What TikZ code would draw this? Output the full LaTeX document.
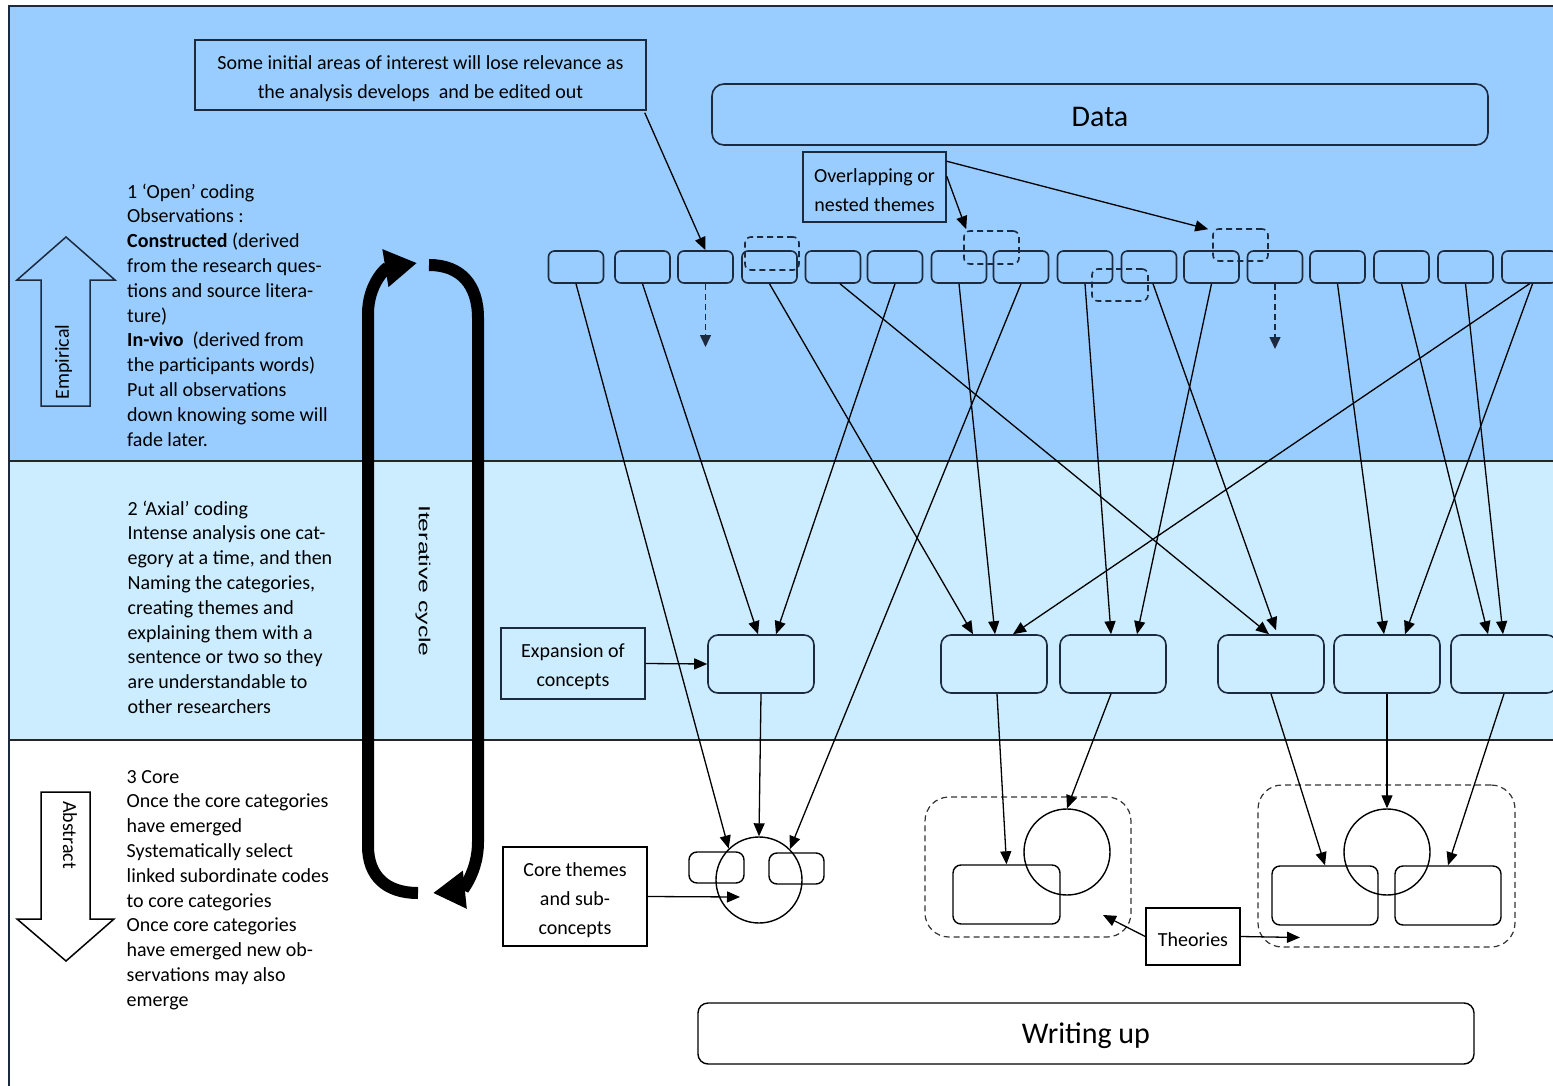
\documentclass[tikz,border=0pt]{standalone}
\usepackage{fontspec}
\setmainfont{Carlito}
\newfontfamily\cycfont{Liberation Sans}
\usetikzlibrary{arrows.meta,calc}
\definecolor{topband}{HTML}{99CCFF}
\definecolor{midband}{HTML}{CCECFF}
\definecolor{navy}{HTML}{1C2A40}
\newcommand\tsr{\rule{0pt}{21pt}}
\begin{document}
\begin{tikzpicture}[x=1pt,y=-1pt,
  lbl/.style={font=\fontsize{20}{29}\selectfont, align=center, inner sep=0pt},
  sqbox/.style={lbl, draw=navy, line width=1.5pt},
  obs/.style={draw=navy, line width=1.6pt, rounded corners=6pt, minimum width=55pt, minimum height=32pt, inner sep=0pt},
  dashbox/.style={draw=navy, line width=1.6pt, rounded corners=6pt, dash pattern=on 6pt off 4pt, inner sep=0pt},
  theme/.style={draw=navy, line width=1.6pt, rounded corners=10pt, minimum width=106pt, minimum height=58pt, inner sep=0pt},
  wbox/.style={draw=black, line width=1.4pt, rounded corners=8pt, inner sep=0pt},
  ring/.style={circle, draw=black, line width=1.4pt, minimum size=86pt, inner sep=0pt},
  grp/.style={draw=black!80, line width=1.2pt, rounded corners=24pt, dash pattern=on 6pt off 4pt, inner sep=0pt},
  arr/.style={draw=black, line width=1.3pt, -{Triangle[length=13pt,width=11pt]}},
  darr/.style={draw=navy, line width=1.5pt, dash pattern=on 6pt off 4pt, -{Triangle[length=12pt,width=11pt]}},
  cyc/.style={draw=black, line width=12pt, -{Triangle[length=32pt,width=36pt]}},
  block/.style={anchor=north west, inner sep=0pt, align=left, font=\fontsize{20}{24.8}\selectfont},
  bigarrow/.style={draw=navy, line width=1.5pt, line join=miter}
]
\useasboundingbox (0,0) rectangle (1553,1086);
% bands
\fill[white] (0,0) rectangle (1553,1086);
\fill[topband] (9,6) rectangle (1553,461);
\fill[midband] (9,461) rectangle (1553,740);
\draw[navy, line width=1.2pt] (1553,6) -- (9,6) -- (9,1086);
\draw[black!85, line width=2.5pt] (9,461) -- (1553,461);
\draw[black!85, line width=2pt] (9,740) -- (1553,740);

% left texts
\node[block] (t1) at (127,180.6) {\strut 1 ‘Open’ coding\\
Observations :\\
\textbf{Constructed} (derived\\
from the research ques-\\
tions and source litera-\\
ture)\\
\textbf{In-vivo}\ \ (derived from\\
the participants words)\\
Put all observations\\
down knowing some will\\
fade later.};
\node[block] (t2) at (127.5,497.6) {\strut 2 ‘Axial’ coding\\
Intense analysis one cat-\\
egory at a time, and then\\
Naming the categories,\\
creating themes and\\
explaining them with a\\
sentence or two so they\\
are understandable to\\
other researchers};
\node[block] (t3) at (126.5,765.6) {\strut 3 Core\\
Once the core categories\\
have emerged\\
Systematically select\\
linked subordinate codes\\
to core categories\\
Once core categories\\
have emerged new ob-\\
servations may also\\
emerge};

% block arrows
\draw[bigarrow] (41,406) -- (41,280) -- (17,280) -- (66,237) -- (115,280) -- (90,280) -- (90,406) -- cycle;
\node[rotate=90, font=\fontsize{20}{24}\selectfont, inner sep=0pt] (emp) at (63.5,362) {Empirical};
\draw[bigarrow, draw=black] (41,792) -- (90,792) -- (90,919) -- (114,919) -- (66,961) -- (17,919) -- (41,919) -- cycle;
\node[rotate=-90, font=\fontsize{20}{24}\selectfont, inner sep=0pt] (abs) at (70,835) {Abstract};

% iterative cycle
\coordinate (cyA) at (418,893);
\coordinate (cyB) at (417,263);
\coordinate (cyC) at (429,265);
\coordinate (cyD) at (433,893);
\draw[cyc] (cyA) .. controls (386,893) and (368,876) .. (368,846) -- (368,314) .. controls (368,284) and (386,268) .. (cyB);
\draw[cyc] (cyC) .. controls (461,265) and (478,285) .. (478,318) -- (478,842) .. controls (478,872) and (462,890) .. (cyD);
\node[rotate=-90, font=\cycfont\fontsize{16}{18}\selectfont, inner sep=0pt] (cyt) at (423,581) {\scalebox{1.55}[1]{Iterative cycle}};

% top boxes
\node[sqbox, minimum width=451pt, minimum height=70pt] (cb) at (420.5,75) {\tsr Some initial areas of interest will lose relevance as\\the analysis develops\ \ and be edited out};
\node[lbl, draw=navy, line width=1.6pt, rounded corners=12pt, minimum width=776pt, minimum height=61pt, font=\fontsize{30}{34}\selectfont] (data) at (1100,114.5) {\rule{0pt}{25pt}Data};
\node[sqbox, minimum width=143pt, minimum height=70pt] (ov) at (874.5,187) {\tsr Overlapping or\\nested themes};

% row of observations
\node[obs] (b1) at (576,267) {};
\node[obs] (b2) at (642.5,267) {};
\node[obs] (b3) at (705.5,267) {};
\node[obs] (b4) at (769.5,267) {};
\node[obs] (b5) at (833,267) {};
\node[obs] (b6) at (895,267) {};
\node[obs] (b7) at (959,267) {};
\node[obs] (b8) at (1021,267) {};
\node[obs] (b9) at (1085,267) {};
\node[obs] (b10) at (1149,267) {};
\node[obs] (b11) at (1211.5,267) {};
\node[obs] (b12) at (1275,267) {};
\node[obs] (b13) at (1337.5,267) {};
\node[obs] (b14) at (1401.5,267) {};
\node[obs] (b15) at (1465.5,267) {};
\node[obs] (b16) at (1529.5,267) {};
\node[dashbox, minimum width=54pt, minimum height=33pt] (d1) at (772,253.5) {};
\node[dashbox, minimum width=55pt, minimum height=33pt] (d2) at (991.5,247.5) {};
\node[dashbox, minimum width=55pt, minimum height=32pt] (d3) at (1240.5,245) {};
\node[dashbox, minimum width=56pt, minimum height=32pt] (d4) at (1120,285) {};

% arrows at top
\draw[arr] ($(cb.south east)+(-2,2)$) -- (b3.north);
\draw[arr] ($(ov.north east)+(0,25)$) -- ($(d2.north west)+(3,-1)$);
\draw[arr] ($(ov.north east)+(0,10)$) -- ($(d3.north west)+(-4,1)$);
\coordinate (x3) at (705.5,347);
\coordinate (x12) at (1275,349);
\draw[darr] (b3.south) -- (x3);
\draw[darr] (b12.south) -- (x12);

% middle themes
\node[theme] (m1) at (761,664) {};
\node[theme] (m2) at (994,664) {};
\node[theme] (m3) at (1113,664) {};
\node[theme] (m4) at (1271,664) {};
\node[theme] (m5) at (1387,664) {};
\node[theme] (m6) at (1504,664) {};
\node[sqbox, minimum width=144pt, minimum height=71pt] (exp) at (573,663.5) {\tsr Expansion of\\concepts};

% bottom
\node[ring] (cc) at (759,880) {};
\node[wbox, minimum width=55pt, minimum height=31pt] (cs1) at (716.5,867.5) {};
\node[wbox, minimum width=55pt, minimum height=31pt] (cs2) at (796.5,868.5) {};
\node[sqbox, draw=black, minimum width=144pt, minimum height=99pt] (coretxt) at (575,896.5) {\tsr Core themes\\and sub-\\concepts};

\node[grp, minimum width=206pt, minimum height=140pt] (lg) at (1028,867) {};
\node[ring] (tc1) at (1067,852) {};
\node[wbox, minimum width=107pt, minimum height=59pt] (tr1) at (1006.5,894.5) {};

\node[grp, minimum width=257pt, minimum height=162pt] (rg) at (1386.5,866) {};
\node[ring] (tc2) at (1387,852) {};
\node[wbox, minimum width=106pt, minimum height=59pt] (tr2) at (1325,895.5) {};
\node[wbox, minimum width=106pt, minimum height=59pt] (tr3) at (1448,895.5) {};

\node[sqbox, draw=black, fill=white, minimum width=94pt, minimum height=57pt] (th) at (1193,936.5) {\tsr Theories};
\node[lbl, draw=black, line width=1.4pt, rounded corners=10pt, minimum width=776pt, minimum height=61pt, font=\fontsize{30}{34}\selectfont] (wu) at (1086,1033.5) {\rule{0pt}{25pt}Writing up};

% observation -> theme arrows
\draw[arr] (b1.south) -- (cc.134);
\draw[arr] (b2.south) -- ($(m1.north)+(-3,0)$);
\draw[arr] (b6.south) -- ($(m1.north)+(15,0)$);
\draw[arr] (b4.south) -- ($(m2.north)+(-21,0)$);
\draw[arr] (b7.south) -- ($(m2.north)+(1,0)$);
\draw[arr] (b16.south) -- ($(m2.north)+(19,0)$);
\draw[arr] (b8.south) -- (cc.45);
\draw[arr] ($(b5.south)+(7,0)$) -- ($(m4.north)+(-2,0)$);
\draw[arr] ($(b10.south)+(4,0)$) -- ($(m4.north)+(5,-4)$);
\draw[arr] (b9.south) -- ($(m3.north)+(-2,0)$);
\draw[arr] (b11.south) -- ($(m3.north)+(24,0)$);
\draw[arr] (b13.south) -- ($(m5.north)+(-3,0)$);
\draw[arr] ($(b16.south)+(3,0)$) -- ($(m5.north)+(18,0)$);
\draw[arr] (b14.south) -- ($(m6.north)+(-16,0)$);
\draw[arr] (b15.south) -- ($(m6.north)+(-1,0)$);

% theme -> core arrows
\draw[arr] (exp.east) -- (m1.west);
\draw[arr] (m1.south) -- (cc.north);
\draw[arr] (coretxt.east) -- ($(cc.center)+(-19,17)$);
\draw[arr] ($(m2.south)+(3,0)$) -- (tr1.north);
\draw[arr] ($(m3.south)+(-2,0)$) -- (tc1.north);
\draw[arr] (m4.south) -- (tr2.north);
\draw[arr] (m5.south) -- (tc2.north);
\draw[arr] (m6.south) -- (tr3.north);
\coordinate (thl) at (1103,915);
\coordinate (thr) at (1300,937.5);
\draw[arr] (th.west) -- (thl);
\draw[arr] (th.east) -- (thr);
\end{tikzpicture}
\end{document}
